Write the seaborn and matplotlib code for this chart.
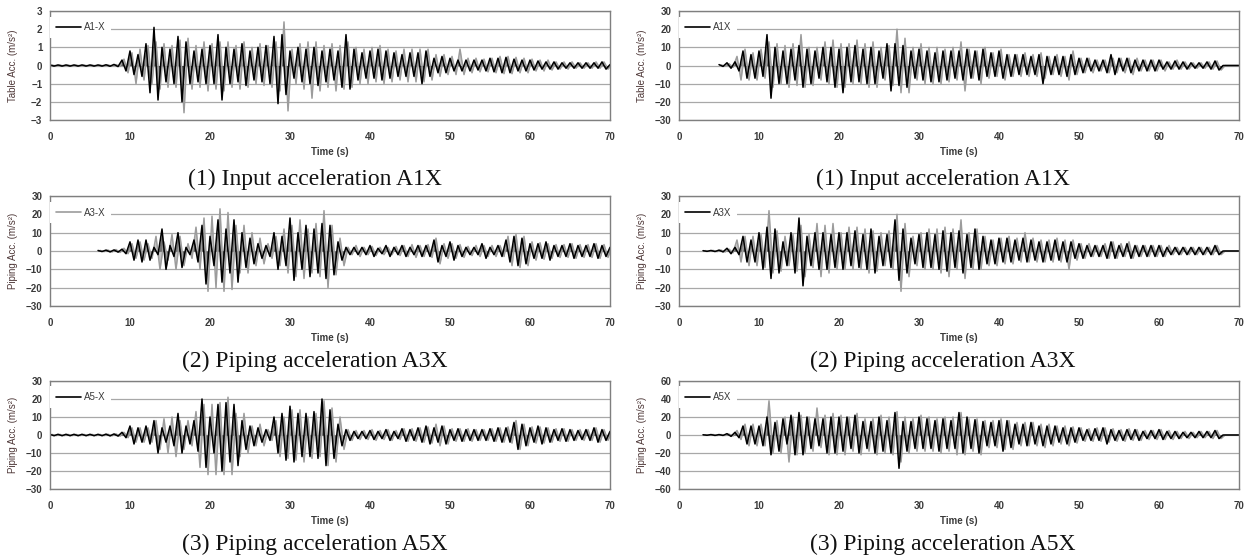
import numpy as np
import pandas as pd
import matplotlib
matplotlib.use("Agg")
import matplotlib.pyplot as plt
from matplotlib.lines import Line2D
import seaborn as sns

nan = np.nan

# time of each positive peak (s); the negative peak follows 0.5 s later
t_sec = list(range(71))

# ---- (1) left: A1-X table acceleration (m/s2) ----
a1l_blk_up = [0.03, 0.03, 0.03, 0.03, 0.03, 0.03, 0.03, 0.04, 0.06, 0.3,
              0.8, 0.6, 1.2, 2.1, 1.0, 0.9, 1.6, 1.3, 0.8, 0.9,
              1.1, 1.7, 1.0, 0.9, 1.2, 0.8, 1.0, 1.1, 1.6, 1.7,
              0.8, 1.0, 0.9, 1.0, 0.8, 0.9, 0.8, 1.7, 0.9, 0.7,
              0.8, 0.9, 0.8, 0.7, 0.6, 0.7, 0.7, 0.8, 0.4, 0.5,
              0.4, 0.3, 0.3, 0.3, 0.3, 0.4, 0.4, 0.45, 0.35, 0.3,
              0.3, 0.25, 0.2, 0.2, 0.15, 0.15, 0.15, 0.15, 0.15, 0.2, 0.05]
a1l_blk_dn = [-0.03, -0.03, -0.03, -0.03, -0.03, -0.03, -0.03, -0.04, -0.06, -0.3,
              -0.5, -0.6, -1.5, -1.9, -0.9, -1.0, -2.0, -1.0, -0.9, -1.0,
              -1.0, -1.9, -1.0, -0.9, -1.1, -0.8, -0.9, -1.0, -2.1, -1.6,
              -0.7, -0.9, -1.0, -1.1, -0.9, -0.8, -1.2, -1.3, -0.8, -0.7,
              -0.7, -0.8, -0.7, -0.6, -0.6, -0.6, -1.0, -0.6, -0.4, -0.4,
              -0.3, -0.3, -0.3, -0.25, -0.3, -0.35, -0.4, -0.4, -0.3, -0.3,
              -0.25, -0.2, -0.2, -0.2, -0.15, -0.15, -0.15, -0.15, -0.15, -0.2, -0.05]
a1l_gry_up = [0.02, 0.02, 0.02, 0.02, 0.02, 0.02, 0.02, 0.03, 0.05, 0.35,
              0.7, 0.9, 1.1, 1.3, 1.2, 1.1, 1.4, 1.5, 1.1, 1.3,
              1.2, 1.3, 1.3, 1.1, 1.3, 1.0, 1.2, 1.1, 1.3, 2.4,
              0.9, 1.2, 1.3, 1.3, 1.1, 1.2, 1.1, 1.3, 1.0, 0.9,
              1.0, 1.1, 0.9, 0.8, 0.9, 0.9, 0.9, 0.9, 0.6, 0.6,
              0.5, 0.9, 0.4, 0.4, 0.35, 0.4, 0.5, 0.5, 0.45, 0.4,
              0.35, 0.3, 0.3, 0.2, 0.2, 0.2, 0.15, 0.15, 0.2, 0.2, 0.1]
a1l_gry_dn = [-0.02, -0.02, -0.02, -0.02, -0.02, -0.02, -0.02, -0.03, -0.05, -0.4,
              -1.0, -0.8, -1.0, -1.3, -1.2, -1.2, -2.6, -1.3, -1.2, -1.4,
              -1.3, -1.4, -1.2, -1.3, -1.2, -1.0, -1.1, -1.2, -1.4, -2.5,
              -1.0, -1.3, -1.8, -1.4, -1.2, -1.4, -1.3, -1.2, -1.0, -1.0,
              -0.9, -1.0, -0.9, -0.8, -0.9, -0.9, -0.9, -0.8, -0.6, -0.5,
              -0.5, -0.5, -0.4, -0.35, -0.35, -0.4, -0.45, -0.45, -0.4, -0.4,
              -0.3, -0.3, -0.25, -0.2, -0.2, -0.15, -0.15, -0.15, -0.15, -0.2, -0.1]

# ---- (1) right: A1X table acceleration ----
a1r_blk_up = [nan, nan, nan, nan, nan, 0.5, 1.5, 2, 8, 6,
              8, 17, 10, 8, 9, 11, 9, 8, 10, 10,
              9, 10, 11, 9, 10, 8, 12, 12, 11, 8,
              9, 8, 7, 8, 8, 8, 9, 8, 9, 7,
              8, 6, 6, 6, 5, 6, 5, 5, 5, 6,
              4, 4, 3, 3, 6, 4, 4, 3, 3, 3,
              3, 2, 2.5, 2, 1.5, 1.5, 2, 2.5, 0, 0, 0]
a1r_blk_dn = [nan, nan, nan, nan, nan, -0.5, -1.5, -3, -7, -7,
              -6, -18, -10, -10, -8, -12, -10, -7, -9, -12,
              -15, -9, -9, -10, -10, -7, -14, -11, -12, -7,
              -8, -9, -9, -8, -7, -8, -7, -8, -6, -6,
              -7, -6, -5, -5, -5, -10, -5, -5, -6, -5,
              -4, -3, -3, -4, -5, -3, -4, -3, -3, -3,
              -2, -2, -2, -2, -1.5, -1.5, -2, -2.5, 0, 0, 0]
a1r_gry_up = [nan, nan, nan, nan, nan, 0.3, 1, 5, 9, 7,
              9, 13, 12, 11, 12, 17, 10, 10, 13, 14,
              12, 12, 14, 12, 13, 10, 11, 20, 15, 10,
              12, 10, 10, 9, 10, 13, 9, 8, 10, 7,
              9, 6, 6, 7, 6, 7, 5, 6, 5, 8,
              4, 4, 3, 3, 4, 4, 4, 4, 3, 3,
              3, 2, 3, 2, 1.5, 1.5, 2, 2.5, 0, 0, 0]
a1r_gry_dn = [nan, nan, nan, nan, nan, -0.3, -1, -8, -8, -8,
              -7, -12, -10, -12, -11, -12, -11, -8, -10, -12,
              -12, -10, -10, -12, -12, -8, -11, -15, -15, -8,
              -10, -10, -10, -9, -8, -14, -7, -10, -7, -6,
              -8, -6, -6, -6, -6, -7, -5, -6, -8, -5,
              -4, -4, -3, -4, -4, -4, -5, -3, -3, -3,
              -3, -2, -2, -2, -1.5, -1.5, -2, -2.5, 0, 0, 0]

# ---- (2) left: A3-X piping acceleration ----
a3l_blk_up = [nan, nan, nan, nan, nan, nan, 0.3, 0.5, 0.6, 1,
              5, 6, 6, 2, 12, 3, 10, 2, 6, 14,
              8, 17, 12, 17, 10, 7, 4, 3, 10, 8,
              18, 10, 14, 12, 15, 14, 5, 2, 2, 2,
              3, 1.5, 3, 2, 3, 2, 3, 3, 6, 3,
              5, 3, 2, 2, 4, 2, 3, 6, 8, 7,
              4, 4, 5, 3, 3, 4, 3, 3, 4, 3, 2]
a3l_blk_dn = [nan, nan, nan, nan, nan, nan, -0.3, -0.5, -0.6, -1.5,
              -5, -6, -5, -2, -10, -3, -9, -2, -6, -18,
              -8, -17, -12, -17, -9, -7, -4, -3, -10, -8,
              -16, -10, -14, -12, -15, -13, -5, -2, -2, -2,
              -3, -1.5, -3, -2, -3, -2, -3, -3, -6, -3,
              -5, -3, -2, -2, -4, -2, -3, -6, -8, -7,
              -4, -4, -5, -3, -3, -4, -3, -3, -4, -3, -2]
a3l_gry_up = [nan, nan, nan, nan, nan, nan, 0.3, 0.5, 0.8, 1.5,
              4, 5, 4, 8, 5, 9, 8, 4, 13, 18,
              19, 23, 21, 14, 14, 10, 7, 4, 8, 12,
              14, 17, 12, 15, 22, 14, 7, 2, 3, 2,
              2.5, 2, 2, 2.5, 3, 3.5, 3, 3.5, 7, 4,
              4, 3.5, 2.5, 3, 3, 3, 3, 8, 9, 8,
              5, 4.5, 4, 3.5, 3.5, 4, 3.5, 3.5, 4, 3.5, 3]
a3l_gry_dn = [nan, nan, nan, nan, nan, nan, -0.3, -0.5, -0.8, -1.5,
              -4, -5, -4, -10, -5, -10, -8, -4, -10, -22,
              -20, -22, -21, -12, -12, -8, -7, -4, -8, -12,
              -14, -15, -12, -14, -20, -13, -8, -2, -3, -2,
              -2.5, -2, -2, -2.5, -3, -3.5, -3, -3.5, -7, -4,
              -4, -3.5, -2.5, -3, -3, -3, -3, -8, -9, -8,
              -5, -4.5, -4, -3.5, -3.5, -4, -3.5, -3.5, -4, -3.5, -3]

# ---- (2) right: A3X piping acceleration ----
a3r_blk_up = [nan, nan, nan, 0.2, 0.3, 0.5, 1.5, 2, 8, 6,
              10, 13, 12, 5, 10, 18, 8, 10, 10, 9,
              10, 10, 11, 9, 12, 8, 9, 17, 12, 7,
              9, 10, 9, 11, 10, 11, 9, 12, 8, 6,
              7, 7, 6, 7, 6, 5, 5, 6, 5, 5,
              4, 3, 3, 3, 5, 3, 4, 3, 3, 3,
              3, 2, 2, 2, 2, 2, 2, 3, 0, 0, 0]
a3r_blk_dn = [nan, nan, nan, -0.2, -0.3, -0.5, -1.5, -2, -6, -6,
              -10, -15, -12, -8, -12, -19, -8, -10, -10, -9,
              -10, -8, -9, -10, -12, -8, -9, -16, -12, -7,
              -9, -9, -10, -11, -9, -12, -9, -10, -7, -7,
              -6, -6, -5, -6, -5, -6, -5, -5, -6, -4,
              -4, -3, -3, -4, -4, -3, -4, -3, -3, -3,
              -3, -2, -2, -2, -2, -2, -2, -2, 0, 0, 0]
a3r_gry_up = [nan, nan, nan, 0.2, 0.3, 0.5, 1, 6, 8, 8,
              9, 22, 11, 8, 9, 14, 9, 15, 14, 15,
              10, 13, 13, 12, 11, 10, 11, 20, 15, 8,
              10, 12, 12, 13, 12, 17, 10, 12, 8, 6,
              7, 8, 7, 10, 7, 6, 6, 7, 6, 6,
              4, 4, 3, 4, 5, 4, 5, 3, 3, 3,
              3, 3, 2, 2, 2, 2, 2, 3, 0, 0, 0]
a3r_gry_dn = [nan, nan, nan, -0.2, -0.3, -0.5, -1, -6, -8, -8,
              -9, -12, -11, -8, -11, -14, -9, -14, -12, -10,
              -10, -10, -10, -12, -11, -8, -10, -22, -14, -8,
              -10, -10, -12, -14, -10, -15, -10, -10, -8, -8,
              -7, -7, -6, -6, -6, -6, -6, -6, -10, -5,
              -4, -3, -3, -4, -4, -3, -4, -3, -3, -3,
              -3, -2, -2, -2, -2, -2, -2, -2, 0, 0, 0]

# ---- (3) left: A5-X piping acceleration ----
a5l_blk_up = [0.4, 0.4, 0.4, 0.4, 0.4, 0.4, 0.4, 0.5, 0.6, 1.5,
              5, 4, 5, 8, 4, 5, 12, 5, 8, 20,
              10, 17, 18, 17, 8, 5, 4, 3, 10, 12,
              16, 12, 12, 13, 20, 14, 6, 3, 2, 2,
              2.5, 2, 3, 2, 3.5, 3, 4, 5, 4, 5,
              3, 3.5, 3, 3, 3, 3.5, 4, 4, 7, 6,
              4, 5, 4, 3, 3.5, 3, 2.5, 3, 4, 3, 2]
a5l_blk_dn = [-0.4, -0.4, -0.4, -0.4, -0.4, -0.4, -0.4, -0.5, -0.6, -1.5,
              -5, -4, -5, -10, -4, -6, -10, -5, -9, -18,
              -10, -20, -15, -17, -8, -6, -4, -3, -10, -14,
              -15, -12, -12, -13, -17, -13, -6, -3, -2, -2,
              -2.5, -2, -3, -2, -3.5, -3, -4, -5, -4, -5,
              -3, -3.5, -3, -3, -3, -3.5, -4, -4, -8, -6,
              -4, -5, -4, -3, -3.5, -3, -2.5, -3, -4, -3, -2]
a5l_gry_up = [0.3, 0.3, 0.3, 0.3, 0.3, 0.3, 0.3, 0.4, 0.6, 1.5,
              4, 4, 4, 8, 9, 10, 8, 8, 13, 17,
              17, 18, 21, 12, 12, 5, 6, 3, 8, 10,
              14, 14, 10, 12, 19, 15, 10, 3, 2.5, 2.5,
              3, 2.5, 3, 2.5, 3.5, 3.5, 4, 4.5, 6, 5,
              3.5, 3.5, 3.5, 3, 3, 3.5, 4, 4.5, 8, 6,
              4.5, 4.5, 4, 3.5, 3.5, 3, 3, 3, 4, 3, 2.5]
a5l_gry_dn = [-0.3, -0.3, -0.3, -0.3, -0.3, -0.3, -0.3, -0.4, -0.6, -1.5,
              -4, -4, -4, -8, -10, -12, -8, -6, -18, -22,
              -22, -22, -22, -12, -10, -6, -6, -3, -12, -13,
              -14, -15, -13, -12, -17, -15, -8, -3, -2.5, -2.5,
              -3, -2.5, -3, -2.5, -3.5, -3.5, -4, -4.5, -6, -5,
              -3.5, -3.5, -3.5, -3, -3, -3.5, -4, -4.5, -8, -6,
              -4.5, -4.5, -4, -3.5, -3.5, -3, -3, -3, -4, -3, -2.5]

# ---- (3) right: A5X piping acceleration ----
a5r_blk_up = [nan, nan, nan, 0.3, 0.5, 0.5, 1.5, 3, 10, 10,
              10, 20, 14, 18, 22, 25, 20, 18, 18, 20,
              20, 20, 22, 15, 15, 20, 16, 25, 15, 15,
              20, 18, 16, 18, 16, 25, 20, 17, 15, 14,
              16, 16, 12, 12, 14, 10, 10, 10, 8, 8,
              8, 6, 7, 8, 6, 5, 6, 6, 4, 5,
              6, 4, 4, 3, 3, 4, 4, 5, 0, 0, 0]
a5r_blk_dn = [nan, nan, nan, -0.3, -0.5, -0.5, -1.5, -3, -10, -10,
              -12, -22, -18, -10, -22, -22, -15, -12, -20, -20,
              -18, -15, -20, -15, -20, -18, -20, -37, -18, -15,
              -15, -15, -18, -15, -15, -20, -15, -20, -12, -12,
              -18, -14, -10, -12, -10, -12, -10, -8, -10, -8,
              -6, -6, -6, -10, -6, -6, -5, -6, -4, -4,
              -5, -4, -4, -3, -3, -3, -3, -4, 0, 0, 0]
a5r_gry_up = [nan, nan, nan, 0.3, 0.5, 0.5, 1, 5, 12, 12,
              12, 38, 16, 20, 20, 22, 20, 30, 22, 24,
              22, 20, 24, 18, 18, 22, 20, 26, 20, 18,
              22, 20, 18, 20, 20, 25, 18, 18, 16, 16,
              18, 16, 14, 14, 14, 12, 12, 10, 10, 9,
              8, 7, 8, 8, 7, 6, 7, 6, 5, 5,
              6, 5, 4, 4, 3, 4, 4, 5, 0, 0, 0]
a5r_gry_dn = [nan, nan, nan, -0.3, -0.5, -0.5, -1, -5, -12, -12,
              -12, -20, -20, -30, -22, -20, -18, -14, -22, -22,
              -22, -18, -22, -18, -22, -20, -22, -30, -20, -18,
              -18, -18, -20, -18, -22, -22, -18, -22, -14, -14,
              -16, -16, -12, -12, -12, -14, -12, -10, -12, -9,
              -7, -7, -7, -8, -7, -7, -6, -6, -5, -5,
              -5, -5, -4, -4, -3, -3, -4, -4, 0, 0, 0]

panels = [
    # (row, col, ylabel, ylim, yticks, legend name, legend on gray?, series)
    (0, 0, "Table Acc. (m/s²)", 3, [-3, -2, -1, 0, 1, 2, 3], "A1-X", False,
     (a1l_blk_up, a1l_blk_dn, a1l_gry_up, a1l_gry_dn)),
    (0, 1, "Table Acc. (m/s²)", 30, [-30, -20, -10, 0, 10, 20, 30], "A1X", False,
     (a1r_blk_up, a1r_blk_dn, a1r_gry_up, a1r_gry_dn)),
    (1, 0, "Piping Acc. (m/s²)", 30, [-30, -20, -10, 0, 10, 20, 30], "A3-X", True,
     (a3l_blk_up, a3l_blk_dn, a3l_gry_up, a3l_gry_dn)),
    (1, 1, "Piping Acc. (m/s²)", 30, [-30, -20, -10, 0, 10, 20, 30], "A3X", False,
     (a3r_blk_up, a3r_blk_dn, a3r_gry_up, a3r_gry_dn)),
    (2, 0, "Piping Acc. (m/s²)", 30, [-30, -20, -10, 0, 10, 20, 30], "A5-X", False,
     (a5l_blk_up, a5l_blk_dn, a5l_gry_up, a5l_gry_dn)),
    (2, 1, "Piping Acc. (m/s²)", 60, [-60, -40, -20, 0, 20, 40, 60], "A5X", False,
     (a5r_blk_up, a5r_blk_dn, a5r_gry_up, a5r_gry_dn)),
]

captions = [
    ["(1) Input acceleration A1X", "(1) Input acceleration A1X"],
    ["(2) Piping acceleration A3X", "(2) Piping acceleration A3X"],
    ["(3) Piping acceleration A5X", "(3) Piping acceleration A5X"],
]

sns.set_style("white")
plt.rcParams['font.family'] = ['Liberation Sans', 'DejaVu Sans']

BLACK = "#000000"
GRAY = "#9c9c9c"
AX_COL = "#7f7f7f"
TXT = "#3a3a3a"


def peaks_frame(up, dn, shift):
    # each positive peak followed by the negative peak half a second later
    t = np.asarray(t_sec, dtype=float) + shift
    x = np.column_stack([t, t + 0.5]).ravel()
    y = np.column_stack([up, dn]).ravel()
    return pd.DataFrame({"t": x, "acc": y}).dropna()


def draw_trace(ax, df, color, lw):
    sns.lineplot(data=df, x="t", y="acc", ax=ax, color=color, lw=lw,
                 estimator=None, sort=False, legend=False)
    # shade between the trace and zero so the record reads as a dense signal
    ax.fill_between(df["t"], df["acc"], 0, color=color, alpha=0.55, lw=0)


fig = plt.figure(figsize=(12.45, 5.59), dpi=100)

col_x = [50 / 1245, 679 / 1245]
ax_w = 560 / 1245
row_box = [(11, 120), (196, 306), (381, 489)]
cap_x = [315 / 1245, 943 / 1245]
cap_base = [185, 367, 550]

for row, col, ylab, lim, yt, name, leg_gray, (bu, bd, gu, gd) in panels:
    top, bot = row_box[row]
    ax = fig.add_axes([col_x[col], (559 - bot) / 559, ax_w, (bot - top) / 559])

    draw_trace(ax, peaks_frame(gu, gd, 0.25), GRAY, 1.1)
    draw_trace(ax, peaks_frame(bu, bd, 0.0), BLACK, 1.1)

    ax.set_xlim(0, 70)
    ax.set_ylim(-lim, lim)
    ax.set_xticks(range(0, 71, 10))
    ax.set_yticks(yt)
    ax.yaxis.grid(True, color="#a8a8a8", lw=0.9)
    ax.xaxis.grid(False)
    ax.set_axisbelow(True)
    for s in ax.spines.values():
        s.set_color(AX_COL)
        s.set_linewidth(1.0)
    ax.tick_params(axis="both", direction="out", length=3, width=0.8,
                   color=AX_COL, labelsize=7, labelcolor=TXT)
    ax.tick_params(axis="x", pad=5.5)
    ax.tick_params(axis="y", pad=2.5)
    for lab in ax.get_xticklabels() + ax.get_yticklabels():
        lab.set_fontweight("bold")

    ax.set_xlabel("Time (s)", fontsize=7, color=TXT, labelpad=4, fontweight="bold")
    ax.set_ylabel(ylab, fontsize=7, color="#4e3838")
    ax.yaxis.set_label_coords(-0.058, 0.5)

    handle = Line2D([0], [0], color=GRAY if leg_gray else BLACK, lw=1.2)
    leg = ax.legend([handle], [name], loc="center left", bbox_to_anchor=(0.0, 0.85),
                    frameon=True, facecolor="white", edgecolor="none", framealpha=1,
                    fancybox=False, fontsize=7, handlelength=2.6, handletextpad=0.3,
                    borderpad=0.6, borderaxespad=0.0, labelcolor=TXT)
    leg.get_frame().set_boxstyle("square", pad=0)

    fig.text(cap_x[col], (559 - cap_base[row]) / 559, captions[row][col],
             family=["Liberation Serif", "DejaVu Serif"], fontsize=17,
             ha="center", va="baseline", color="#111111")

fig.savefig("out.png", dpi=100)
